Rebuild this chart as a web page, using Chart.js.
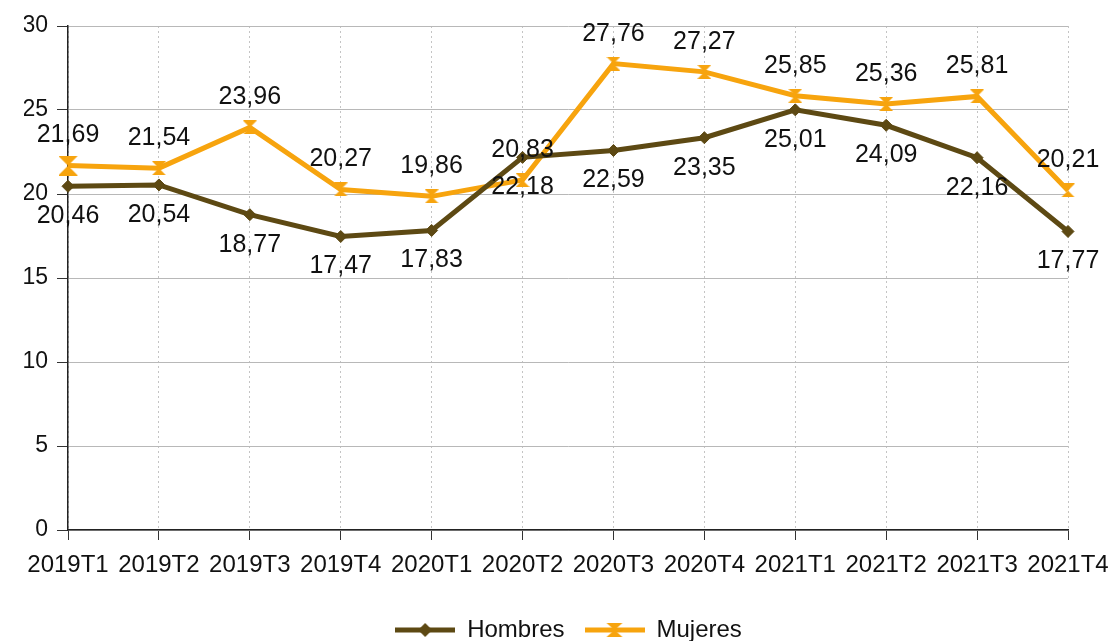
<!DOCTYPE html>
<html>
<head>
<meta charset="utf-8">
<script src="https://cdn.jsdelivr.net/npm/chart.js@4.4.1/dist/chart.umd.min.js"></script>
<style>
  html, body { margin: 0; padding: 0; background: #fff; }
</style>
</head>
<body>
<canvas id="chart" width="1113" height="641"></canvas>
<script>
// data
const quarters = ['2019T1', '2019T2', '2019T3', '2019T4', '2020T1', '2020T2',
	'2020T3', '2020T4', '2021T1', '2021T2', '2021T3', '2021T4'];
const hombres = [20.46, 20.54, 18.77, 17.47, 17.83, 22.18, 22.59, 23.35, 25.01, 24.09, 22.16, 17.77];
const mujeres = [21.69, 21.54, 23.96, 20.27, 19.86, 20.83, 27.76, 27.27, 25.85, 25.36, 25.81, 20.21];
const yTicks = [0, 5, 10, 15, 20, 25, 30];

const BROWN = '#5d4913';
const ORANGE = '#f7a40e';
const FONT = '"Liberation Sans", Arial, sans-serif';

// hourglass marker used for Mujeres
function hourglass(size) {
	const c = document.createElement('canvas');
	c.width = size;
	c.height = size;
	const g = c.getContext('2d');
	g.fillStyle = ORANGE;
	g.beginPath();
	g.moveTo(0, 0);
	g.lineTo(size, 0);
	g.lineTo(size / 2, size / 2);
	g.lineTo(size, size);
	g.lineTo(0, size);
	g.lineTo(size / 2, size / 2);
	g.closePath();
	g.fill();
	return c;
}

// small line + marker pictures for the legend
function legendPic(color, marker) {
	const c = document.createElement('canvas');
	c.width = 60;
	c.height = 16;
	const g = c.getContext('2d');
	g.strokeStyle = color;
	g.lineWidth = 5;
	g.beginPath();
	g.moveTo(0, 8);
	g.lineTo(60, 8);
	g.stroke();
	g.fillStyle = color;
	g.beginPath();
	if (marker === 'diamond') {
		g.moveTo(30, 1); g.lineTo(37, 8); g.lineTo(30, 15); g.lineTo(23, 8);
	} else {
		g.moveTo(22, 1); g.lineTo(38, 1); g.lineTo(30, 8); g.lineTo(38, 15); g.lineTo(22, 15); g.lineTo(30, 8);
	}
	g.closePath();
	g.fill();
	return c;
}

const smallStar = hourglass(14);
const bigStar = hourglass(20);
const legendPics = [legendPic(BROWN, 'diamond'), legendPic(ORANGE, 'hourglass')];

const valueLabels = {
	id: 'valueLabels',
	afterDatasetsDraw(chart) {
		const ctx = chart.ctx;
		ctx.save();
		ctx.font = '25px ' + FONT;
		ctx.fillStyle = '#111';
		ctx.textAlign = 'center';
		ctx.textBaseline = 'middle';
		chart.data.datasets.forEach((ds, i) => {
			const meta = chart.getDatasetMeta(i);
			meta.data.forEach((pt, j) => {
				const txt = ds.data[j].toFixed(2).replace('.', ',');
				ctx.fillText(txt, pt.x, pt.y + ds.labelShift);
			});
		});
		ctx.restore();
	}
};

const ctx = document.getElementById('chart').getContext('2d');
const chart = new Chart(ctx, {
	type: 'line',
	data: {
		labels: quarters,
		datasets: [{
			label: 'Hombres',
			data: hombres,
			borderColor: BROWN,
			backgroundColor: BROWN,
			borderWidth: 5,
			pointStyle: 'rectRot',
			pointRadius: 6,
			pointHoverRadius: 6,
			pointBorderWidth: 1,
			tension: 0,
			labelShift: 30
		}, {
			label: 'Mujeres',
			data: mujeres,
			borderColor: ORANGE,
			backgroundColor: ORANGE,
			borderWidth: 5,
			pointStyle: quarters.map((q, i) => i === 0 ? bigStar : smallStar),
			tension: 0,
			labelShift: -30
		}]
	},
	options: {
		responsive: false,
		animation: false,
		layout: {
			padding: { left: 24, right: 0, top: 26, bottom: -11 }
		},
		plugins: {
			tooltip: { enabled: false },
			legend: {
				position: 'bottom',
				labels: {
					usePointStyle: true,
					pointStyleWidth: 60,
					padding: 20,
					color: '#111',
					font: { family: FONT, size: 24 },
					generateLabels: (c) => c.data.datasets.map((ds, i) => ({
						text: ds.label,
						pointStyle: legendPics[i],
						fillStyle: ds.borderColor,
						strokeStyle: ds.borderColor,
						lineWidth: 0,
						fontColor: '#111',
						datasetIndex: i
					}))
				}
			}
		},
		scales: {
			x: {
				afterFit: (scale) => {
					scale.height = 68;
					scale.paddingLeft = 0;
					scale.paddingRight = 45;
				},
				ticks: {
					autoSkip: false,
					maxRotation: 0,
					padding: 11,
					color: '#111',
					font: { family: FONT, size: 24 }
				},
				grid: {
					color: '#c4c4c4',
					tickColor: '#333',
					tickLength: 10,
					lineWidth: 1
				},
				border: { color: '#222', width: 1.5, dash: [2, 3] }
			},
			y: {
				min: 0,
				max: 30,
				afterFit: (scale) => { scale.width = 44; },
				afterBuildTicks: (scale) => { scale.ticks = yTicks.map(v => ({ value: v })); },
				ticks: {
					padding: 9,
					color: '#111',
					font: { family: FONT, size: 23 }
				},
				grid: {
					color: '#b8b8b8',
					tickColor: '#333',
					tickLength: 11,
					lineWidth: 1
				},
				border: { color: '#222', width: 1.5 }
			}
		}
	},
	plugins: [valueLabels]
});
</script>
</body>
</html>
